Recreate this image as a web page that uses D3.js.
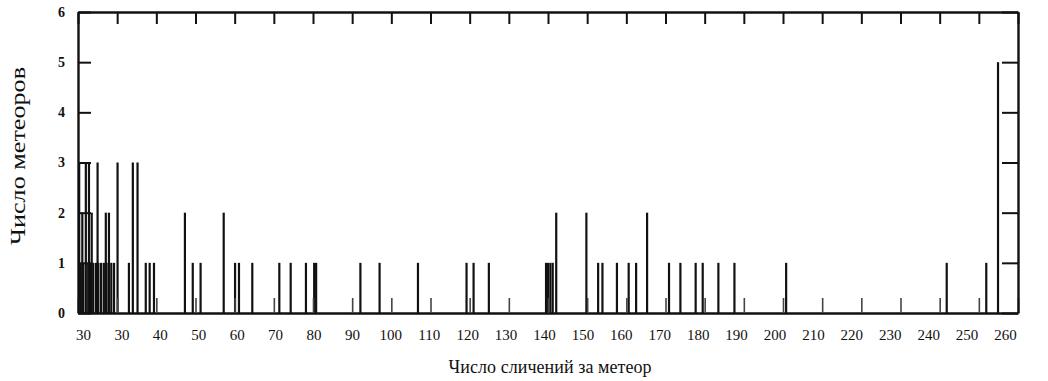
<!DOCTYPE html>
<html>
<head>
<meta charset="utf-8">
<script src="https://cdn.jsdelivr.net/npm/d3@7"></script>
<style>
  body { margin: 0; background: #fff; }
  svg text { font-family: "Liberation Serif", "DejaVu Serif", serif; fill: #111; }
</style>
</head>
<body>
<svg id="chart"></svg>
<script>
// number of comparisons per meteor (x) and number of meteors (height)
const clusterX = [20.3, 20.7, 21.1, 21.35, 22.0, 22.6, 22.8, 23.3, 23.5, 23.9, 24.6, 25.0, 25.2, 25.9, 26.6, 27.1, 27.2, 27.8, 27.9, 28.5, 29.2, 30.1];
const clusterN = [3, 1, 2, 1, 3, 1, 3, 1, 2, 1, 1, 3, 1, 1, 1, 2, 1, 1, 2, 1, 1, 3];

const barX = [33.0, 34.0, 35.2, 37.3, 38.3, 39.4, 47.3, 49.3, 51.3, 57.2, 60.1, 61.1, 64.5,
  71.4, 74.3, 78.2, 80.3, 80.8, 92.1, 97.0, 106.8, 119.2, 121.0, 124.9,
  139.5, 140.0, 140.6, 141.2, 142.1, 149.8, 152.8, 153.9, 157.6, 160.6, 162.5, 165.3,
  170.9, 173.8, 177.7, 179.5, 183.5, 187.6, 200.8, 241.8, 251.9, 254.9];
const barN = [1, 3, 3, 1, 1, 1, 2, 1, 1, 2, 1, 1, 1,
  1, 1, 1, 1, 1, 1, 1, 1, 1, 1, 1,
  1, 1, 1, 1, 2, 2, 1, 1, 1, 1, 1, 2,
  1, 1, 1, 1, 1, 1, 1, 1, 1, 5];

const xTicks = [20, 30, 40, 50, 60, 70, 80, 90, 100, 110, 120, 130, 140, 150, 160, 170, 180, 190, 200, 210, 220, 230, 240, 250, 260];
const xTickLabels = ["30", "30", "40", "50", "60", "70", "80", "90", "100", "110", "120", "130", "140", "150", "160", "170", "180", "190", "200", "210", "220", "230", "240", "250", "260"];
const yTicks = [0, 1, 2, 3, 4, 5, 6];

const width = 1048, height = 381;
const margin = {top: 12, right: 30, bottom: 68, left: 78};

const svg = d3.select("#chart")
    .attr("width", width)
    .attr("height", height);

const x = d3.scaleLinear().domain([20, 260]).range([margin.left, width - margin.right]);
// the printed labels drift a little against the ticks in the scan
const xLabel = d3.scaleLinear().domain([20, 260]).range([margin.left + 5, width - margin.right - 13]);
const y = d3.scaleLinear().domain([0, 6]).range([height - margin.bottom, margin.top]);

const bars = clusterX.map((v, i) => ({x: v, n: clusterN[i]}))
    .concat(barX.map((v, i) => ({x: v, n: barN[i]})));

svg.append("g")
    .selectAll("line")
    .data(bars)
    .enter().append("line")
    .attr("x1", d => x(d.x))
    .attr("x2", d => x(d.x))
    .attr("y1", y(0))
    .attr("y2", d => y(d.n))
    .attr("stroke", "#111")
    .attr("stroke-width", 2.2);

// inward ticks on all four sides
const bottomAxis = svg.append("g")
    .attr("transform", `translate(0,${y(0)})`)
    .call(d3.axisBottom(x).tickValues(xTicks).tickSize(-15).tickSizeOuter(0).tickFormat(""));
const topAxis = svg.append("g")
    .attr("transform", `translate(0,${y(6)})`)
    .call(d3.axisTop(x).tickValues(xTicks).tickSize(-12).tickSizeOuter(0).tickFormat(""));
const leftAxis = svg.append("g")
    .attr("transform", `translate(${x(20)},0)`)
    .call(d3.axisLeft(y).tickValues(yTicks).tickSize(-13).tickSizeOuter(0).tickPadding(13).tickFormat(d3.format("d")));
const rightAxis = svg.append("g")
    .attr("transform", `translate(${x(260)},0)`)
    .call(d3.axisRight(y).tickValues(yTicks).tickSize(-16).tickSizeOuter(0).tickFormat(""));

[bottomAxis, topAxis, leftAxis, rightAxis].forEach(g => {
  g.select(".domain").attr("stroke", "#111").attr("stroke-width", 2.4);
  g.selectAll(".tick line").attr("stroke", "#111").attr("stroke-width", 2);
});
bottomAxis.selectAll(".tick line").attr("stroke-width", 1.6).attr("stroke", "#444");
leftAxis.selectAll("text")
    .attr("font-size", 14)
    .attr("font-family", "Liberation Serif")
    .attr("font-weight", "bold");

// tick labels along the bottom
svg.append("g")
    .attr("transform", `translate(0,${y(0)})`)
    .call(d3.axisBottom(xLabel).tickValues(xTicks).tickSize(0).tickPadding(16)
      .tickFormat((d, i) => xTickLabels[i]))
    .call(g => g.select(".domain").remove())
    .selectAll("text")
    .attr("font-size", 15)
    .attr("font-family", "Liberation Serif");

svg.append("text")
    .attr("x", 550)
    .attr("y", 373)
    .attr("text-anchor", "middle")
    .attr("font-size", 18)
    .attr("textLength", 203)
    .attr("lengthAdjust", "spacing")
    .text("Число сличений за метеор");

svg.append("text")
    .attr("transform", "translate(25,156) rotate(-90)")
    .attr("text-anchor", "middle")
    .attr("font-size", 20)
    .attr("textLength", 178)
    .attr("lengthAdjust", "spacingAndGlyphs")
    .text("Число метеоров");
</script>
</body>
</html>
